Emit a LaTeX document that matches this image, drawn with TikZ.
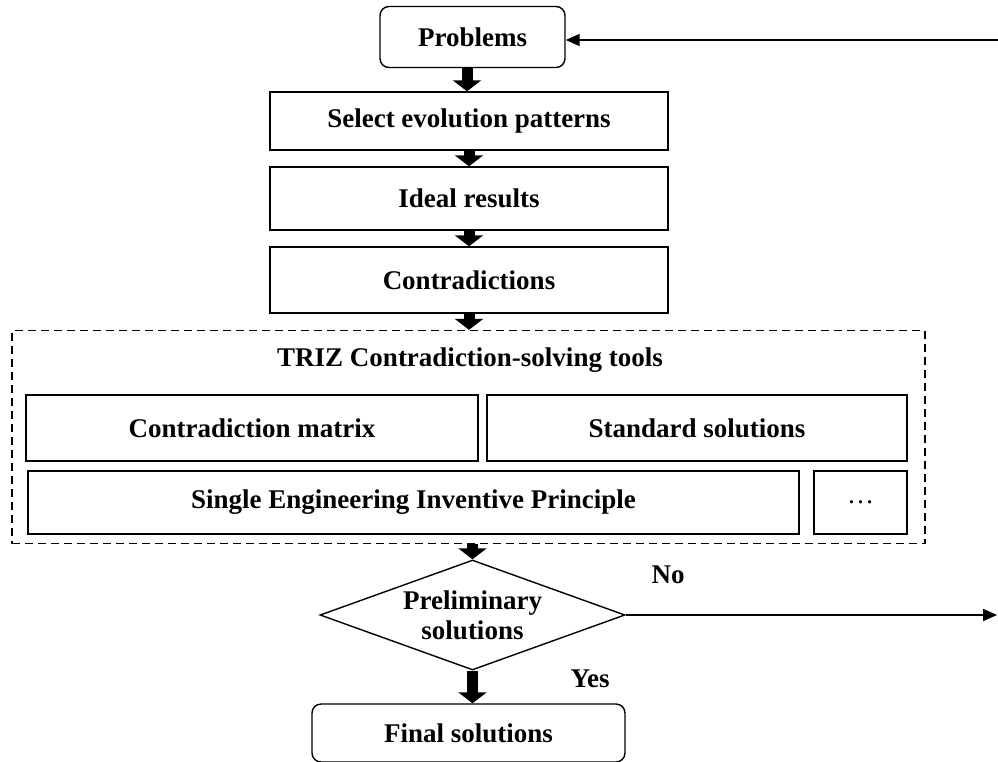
\documentclass[tikz,border=0pt]{standalone}
\usepackage{fontspec}
\setmainfont{Liberation Serif}
\usetikzlibrary{arrows.meta,shapes.geometric}
\begin{document}
\begin{tikzpicture}[x=1pt,y=-1pt,
  font=\fontsize{27}{30}\selectfont\bfseries,
  box/.style={draw,line width=1.4pt,inner sep=0pt},
  rbox/.style={box,rounded corners=9pt},
  blockarrow/.style={line width=11pt,-{Triangle[width=28pt,length=11pt]}},
  thin arrow/.style={line width=1.6pt,-{Triangle[width=12pt,length=14pt]}},
  lbl/.style={inner sep=0pt}]
\useasboundingbox (0,0) rectangle (998,761);
\node[rbox,minimum width=185pt,minimum height=61pt] (prob) at (472.5,37) {Problems};
\node[box,minimum width=398pt,minimum height=58pt] (sel) at (469,121) {Select evolution patterns};
\node[box,minimum width=398pt,minimum height=63pt] (ideal) at (469,198.5) {Ideal results};
\node[box,minimum width=398pt,minimum height=66pt] (contr) at (469,280) {Contradictions};
\node[draw,dashed,dash pattern=on 8pt off 5pt,line width=1.3pt,minimum width=913pt,minimum height=213pt,inner sep=0pt] (triz) at (468.5,437) {};
\node[lbl] (trizt) at (470,360) {TRIZ Contradiction-solving tools};
\node[box,minimum width=452pt,minimum height=66pt] (matrix) at (252,428) {Contradiction matrix};
\node[box,minimum width=420pt,minimum height=66pt] (std) at (697,428) {Standard solutions};
\node[box,minimum width=771pt,minimum height=63pt] (single) at (413.5,502.5) {Single Engineering Inventive Principle};
\node[box,minimum width=93pt,minimum height=63pt] (dots) at (860.5,502.5) {\textmd{\dots}};
\node[draw,diamond,line width=1.4pt,minimum width=305pt,minimum height=110pt,inner sep=0pt,aspect=2.77,align=center,font=\fontsize{27}{30}\selectfont\bfseries] (pre) at (472.5,615) {Preliminary\\solutions};
\node[rbox,minimum width=313pt,minimum height=58pt] (fin) at (468.5,733) {Final solutions};
\node[lbl] (no) at (668,575) {No};
\node[lbl] (yes) at (590,679) {Yes};
\coordinate (topr) at (998,40);
\coordinate (rend) at (997,615);
\draw[blockarrow] (prob.south -| 467,0) -- (sel.north -| 467,0);
\draw[blockarrow] (sel.south) -- (ideal.north);
\draw[blockarrow] (ideal.south) -- (contr.north);
\draw[blockarrow] (contr.south) -- (triz.north -| contr.south);
\draw[blockarrow] (triz.south -| pre.north) -- (pre.north);
\draw[blockarrow] (pre.south) -- (fin.north -| pre.south);
\draw[thin arrow] (topr) -- (prob.east |- topr);
\draw[thin arrow] (pre.east) -- (rend);
\end{tikzpicture}
\end{document}
